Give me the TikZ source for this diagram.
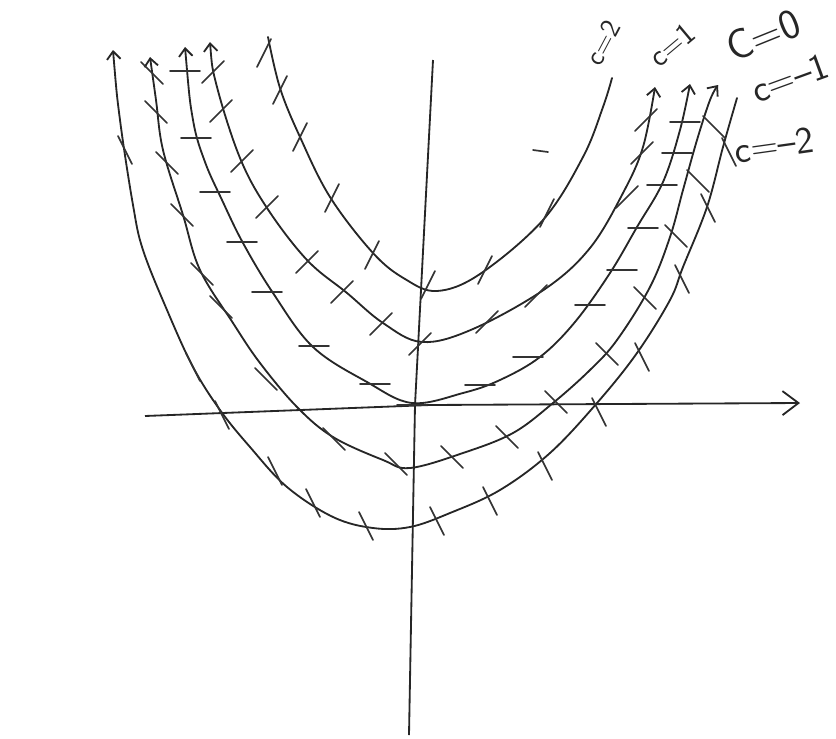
\documentclass[tikz,border=0pt]{standalone}
\usepackage{amsmath}
\usetikzlibrary{arrows.meta}

\begin{document}
\begin{tikzpicture}[
        x=0.025cm,
        y=-0.025cm,
        curve/.style={
            line width=1.3pt,
            draw=black!85,
            line cap=round
        },
        tickmark/.style={
            line width=1.2pt,
            draw=black!80,
            line cap=round
        },
        axisline/.style={
            line width=1.3pt,
            draw=black!85
        },
        leftend/.style={{Straight Barb[length=2mm,width=3.4mm]}-},
        bothends/.style={{Straight Barb[length=2mm,width=3.4mm]}-{Straight Barb[length=2mm,width=3.4mm]}},
        clabel/.style={text=black!85, inner sep=0pt}
    ]
        \useasboundingbox (0,0) rectangle (836,738);

        % axes
        \draw[axisline, -{Straight Barb[length=4mm,width=6mm]}]
            (145,416) -- (430,405) -- (800,403);
        \draw[axisline] (433,60) -- (415,405) -- (409,735);

        % isoclines, top (c=2) to bottom (c=-2)
        \draw[curve] plot[smooth, tension=0.6] coordinates {
            (268,37) (280,88) (300,137) (330,197) (373,253) (405,279)
            (437,291) (480,274) (543,220) (583,157) (603,107) (612,78)};
        \draw[curve, bothends] plot[smooth, tension=0.6] coordinates {
            (210,42) (217,87) (240,158) (267,208) (307,260) (347,293)
            (383,323) (422,342) (473,329) (545,289) (590,248) (623,193)
            (643,147) (655,87)};
        \draw[curve, bothends] plot[smooth, tension=0.6] coordinates {
            (185,47) (193,120) (205,162) (222,200) (243,243) (273,293)
            (313,347) (367,382) (412,403) (463,393) (500,380) (540,357)
            (575,322) (610,273) (637,227) (663,182) (680,130) (690,84)};
        \draw[curve, bothends] plot[smooth, tension=0.6] coordinates {
            (150,57) (156,100) (163,150) (183,215) (200,270) (233,323)
            (260,363) (297,407) (333,437) (383,460) (410,468) (463,453)
            (513,433) (553,403) (590,370) (617,340) (650,287) (670,237)
            (683,190) (697,140) (710,100) (718,85)};
        \draw[curve, leftend] plot[smooth, tension=0.6] coordinates {
            (113,50) (120,120) (133,205) (143,250) (167,310) (193,367)
            (220,410) (250,447) (287,487) (333,517) (373,528) (410,527)
            (450,513) (500,490) (550,453) (597,403) (637,353) (670,300)
            (683,267) (707,207) (723,147) (737,98)};

        % slope marks: slope 2
        \foreach \px/\py in {264/53,280/90,300/137,332/198,372/255,
                             428/285,485/270,547/213}
            \draw[tickmark] (\px-7,\py+14) -- (\px+7,\py-14);

        % slope 1
        \foreach \px/\py in {213/72,221/111,242/161,267/207,307/262,
                             342/292,381/324,420/344,487/322,536/296,
                             627/197,642/153,646/120}
            \draw[tickmark] (\px-11,\py+11) -- (\px+11,\py-11);

        % slope 0
        \foreach \px/\py in {185/71,196/138,215/192,242/242,267/292,
                             314/346,375/384,412/405,480/385,528/357,
                             590/305,622/270,643/228,662/185,677/153,685/122}
            \draw[tickmark] (\px-15,\py) -- (\px+15,\py);

        % slope -1
        \foreach \px/\py in {152/73,156/112,167/163,182/215,202/274,
                             221/307,266/379,334/439,396/464,452/457,
                             507/437,556/402,607/354,645/298,676/236,
                             698/181,714/127}
            \draw[tickmark] (\px-11,\py-11) -- (\px+11,\py+11);

        % slope -2
        \foreach \px/\py in {125/150,193/367,222/415,275/471,313/503,
                             366/526,437/521,490/501,545/466,599/412,
                             642/357,682/279,708/208,729/152}
            \draw[tickmark] (\px-7,\py-14) -- (\px+7,\py+14);

        % stray dash
        \draw[tickmark] (533,150) -- (548,152);

        % labels
        \node[clabel, font=\sffamily\fontsize{20}{24}\selectfont, rotate=62]
            (ctwo) at (603,43) {c=2};
        \node[clabel, font=\sffamily\fontsize{22}{26}\selectfont, rotate=40]
            (cone) at (672,45) {c=1};
        \node[clabel, font=\sffamily\fontsize{30}{36}\selectfont, rotate=22]
            (czero) at (763,35) {C=0};
        \node[clabel, font=\sffamily\fontsize{27}{32}\selectfont, rotate=20]
            (cmone) at (790,78) {c=--1};
        \node[clabel, font=\sffamily\fontsize{27}{32}\selectfont, rotate=8]
            (cmtwo) at (774,145) {c=--2};

    \end{tikzpicture}
\end{document}
